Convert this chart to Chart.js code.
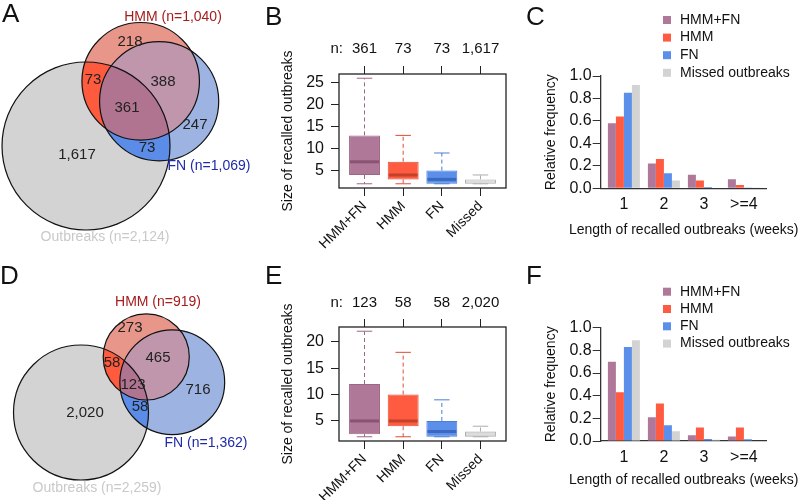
<!DOCTYPE html>
<html>
<head>
<meta charset="utf-8">
<title>Recalled outbreaks</title>
<script src="https://cdn.jsdelivr.net/npm/chart.js@4.4.1/dist/chart.umd.min.js"></script>
<style>
  body{margin:0;background:#fff}
  #fig{position:relative;width:800px;height:500px;overflow:hidden;font-family:"Liberation Sans",Arial,sans-serif}
  #fig canvas{position:absolute}
  .tag{position:absolute;font-size:26px;line-height:1;color:#111}
</style>
</head>
<body>
<div id="fig">
  <canvas id="vennA" width="260" height="250" style="left:0;top:0"></canvas>
  <canvas id="boxB" width="260" height="250" style="left:260px;top:0"></canvas>
  <canvas id="barC" width="280" height="250" style="left:520px;top:0"></canvas>
  <canvas id="vennD" width="260" height="250" style="left:0;top:250px"></canvas>
  <canvas id="boxE" width="260" height="250" style="left:260px;top:250px"></canvas>
  <canvas id="barF" width="280" height="250" style="left:520px;top:250px"></canvas>
  <div class="tag" style="left:2px;top:0">A</div>
  <div class="tag" style="left:265px;top:3px">B</div>
  <div class="tag" style="left:526px;top:3px">C</div>
  <div class="tag" style="left:0;top:262px">D</div>
  <div class="tag" style="left:265px;top:262px">E</div>
  <div class="tag" style="left:526px;top:262px">F</div>
</div>
<script>
// venn regions: outbreaks only, HMM only, FN only, outbreaks+HMM, outbreaks+FN, HMM+FN, all three
const vennRegionsA = [1617, 218, 247, 73, 73, 388, 361]
const vennRegionsD = [2020, 273, 716, 58, 58, 465, 123]
const vennSetNames = ['Outbreaks', 'HMM', 'FN']

const boxGroups = ['HMM+FN', 'HMM', 'FN', 'Missed']
const boxCountsB = [361, 73, 73, 1617]
const boxMinB = [2, 2, 2, 2]
const boxQ1B = [4, 3, 2, 2]
const boxMedB = [7, 4, 3, 2.5]
const boxQ3B = [13, 7, 5, 3]
const boxMaxB = [26, 13, 9, 4]
const sizeTicksB = [5, 10, 15, 20, 25]

const boxCountsE = [123, 58, 58, 2020]
const boxMinE = [2, 2, 2, 2]
const boxQ1E = [2.5, 4, 2, 2]
const boxMedE = [5, 5, 3, 2.5]
const boxQ3E = [12, 10, 5, 3]
const boxMaxE = [22, 18, 9, 4]
const sizeTicksE = [5, 10, 15, 20]

const lengthCats = ['1', '2', '3', '>=4']
const lengthSeries = ['HMM+FN', 'HMM', 'FN', 'Missed outbreaks']
const freqHmmFnC = [0.58, 0.22, 0.12, 0.08]
const freqHmmC = [0.64, 0.26, 0.07, 0.03]
const freqFnC = [0.85, 0.135, 0.012, 0.003]
const freqMissedC = [0.92, 0.07, 0.006, 0.002]
const freqHmmFnF = [0.70, 0.21, 0.05, 0.04]
const freqHmmF = [0.43, 0.33, 0.12, 0.12]
const freqFnF = [0.83, 0.14, 0.018, 0.015]
const freqMissedF = [0.89, 0.085, 0.012, 0.004]
const freqTicks = [0, 0.2, 0.4, 0.6, 0.8, 1.0]

// colours
const groupFill = ['#b07898', '#fe5b40', '#5b8fe9', '#c2c2c2']
const groupLine = ['#9e6686', '#e24b31', '#4a7ed8', '#adadad']
const groupMedian = ['#8a5373', '#c4412a', '#3a69bf', '#dcdcdc']
const barFill = ['#b07898', '#fe5b40', '#5b8fe9', '#d3d3d3']
const vennFill = {o:'#d3d3d3', h:'#e8968a', f:'#9db4e2', hf:'#c096ac', oh:'#fe5a3d', of:'#5a8ce8', all:'#b07490'}
const vennSetColor = ['#c9c9c9', '#a51c1c', '#1f2aa8']

const FONT = '"Liberation Sans", Arial, sans-serif'
Chart.defaults.font.family = FONT
Chart.defaults.color = '#111'
Chart.defaults.animation = false
Chart.defaults.events = []
Chart.defaults.plugins.legend.display = false
Chart.defaults.plugins.tooltip.enabled = false

function fmt(n){ return n.toLocaleString('en-US') }

// ---------- area proportional venn ----------
function lensArea(r1, r2, d){
  if(d >= r1 + r2) return 0
  if(d <= Math.abs(r1 - r2)) return Math.PI * Math.min(r1, r2) ** 2
  const a = r1*r1*Math.acos((d*d + r1*r1 - r2*r2)/(2*d*r1))
  const b = r2*r2*Math.acos((d*d + r2*r2 - r1*r1)/(2*d*r2))
  const c = 0.5*Math.sqrt((-d+r1+r2)*(d+r1-r2)*(d-r1+r2)*(d+r1+r2))
  return a + b - c
}
function distFor(r1, r2, area){
  let lo = Math.abs(r1 - r2), hi = r1 + r2
  for(let i = 0; i < 60; i++){
    const mid = (lo + hi)/2
    if(lensArea(r1, r2, mid) > area) lo = mid; else hi = mid
  }
  return (lo + hi)/2
}
function setTotals(reg){
  const [o, h, f, oh, of, hf, all] = reg
  return [o+oh+of+all, h+oh+hf+all, f+of+hf+all]
}
function vennCircles(reg, angleDeg){
  const [o, h, f, oh, of, hf, all] = reg
  const [nO, nH, nF] = setTotals(reg)
  const rO = Math.sqrt(nO/Math.PI), rH = Math.sqrt(nH/Math.PI), rF = Math.sqrt(nF/Math.PI)
  const dOH = distFor(rO, rH, oh + all)
  const dOF = distFor(rO, rF, of + all)
  const dHF = distFor(rH, rF, hf + all)
  const t = angleDeg*Math.PI/180
  const a = Math.acos((dOH*dOH + dOF*dOF - dHF*dHF)/(2*dOH*dOF))
  return [
    {x:0, y:0, r:rO},
    {x:dOH*Math.cos(t), y:dOH*Math.sin(t), r:rH},
    {x:dOF*Math.cos(t - a), y:dOF*Math.sin(t - a), r:rF}
  ]
}

function vennPlugin(reg, numPos, setPos){
  return {
    id:'venn',
    afterDatasetsDraw(chart){
      const ctx = chart.ctx
      const c = chart.getDatasetMeta(0).data.map(p => ({x:p.x, y:p.y, r:p.options.radius}))
      const circle = k => { ctx.beginPath(); ctx.arc(c[k].x, c[k].y, c[k].r, 0, Math.PI*2) }
      const fill = (col, clips, k) => {
        ctx.save()
        clips.forEach(j => { circle(j); ctx.clip() })
        circle(k); ctx.fillStyle = col; ctx.fill()
        ctx.restore()
      }
      fill(vennFill.o, [], 0)
      fill(vennFill.h, [], 1)
      fill(vennFill.f, [], 2)
      fill(vennFill.hf, [1], 2)
      fill(vennFill.oh, [0], 1)
      fill(vennFill.of, [0], 2)
      fill(vennFill.all, [0, 1], 2)
      ctx.save()
      ctx.strokeStyle = '#111'; ctx.lineWidth = 1.2
      for(let k = 0; k < 3; k++){ circle(k); ctx.stroke() }
      ctx.textAlign = 'center'; ctx.textBaseline = 'middle'
      ctx.font = '15px ' + FONT; ctx.fillStyle = '#222'
      reg.forEach((v, i) => ctx.fillText(fmt(v), numPos[i][0], numPos[i][1]))
      ctx.font = '14px ' + FONT
      setTotals(reg).forEach((n, i) => {
        ctx.fillStyle = vennSetColor[i]
        ctx.fillText(vennSetNames[i] + ' (n=' + fmt(n) + ')', setPos[i][0], setPos[i][1])
      })
      ctx.restore()
    }
  }
}

function makeVenn(id, reg, angleDeg, ppu, origin, numPos, setPos){
  const cv = document.getElementById(id)
  const W = cv.width, H = cv.height
  new Chart(cv, {
    type:'scatter',
    data:{datasets:[{
      data: vennCircles(reg, angleDeg),
      pointRadius: ctx => { const s = ctx.chart.scales.x; return s.getPixelForValue(ctx.raw.r) - s.getPixelForValue(0) },
      pointBackgroundColor:'rgba(0,0,0,0)', pointBorderWidth:0
    }]},
    options:{
      responsive:false,
      scales:{
        x:{display:false, min:-origin[0]/ppu, max:(W - origin[0])/ppu},
        y:{display:false, min:-(H - origin[1])/ppu, max:origin[1]/ppu}
      }
    },
    plugins:[vennPlugin(reg, numPos, setPos)]
  })
}

// ---------- box plots ----------
function boxPlugin(mins, q1s, meds, q3s, maxs, nY){
  return {
    id:'boxExtras',
    afterDatasetsDraw(chart){
      const ctx = chart.ctx, xs = chart.scales.x, ys = chart.scales.y
      chart.getDatasetMeta(0).data.forEach((bar, i) => {
        const cx = xs.getPixelForValue(i + 1), w = bar.width
        const py = v => ys.getPixelForValue(v)
        ctx.save()
        ctx.strokeStyle = groupLine[i]; ctx.lineWidth = 1
        ctx.setLineDash([4, 3])
        ctx.beginPath()
        ctx.moveTo(cx, py(q3s[i])); ctx.lineTo(cx, py(maxs[i]))
        ctx.moveTo(cx, py(q1s[i])); ctx.lineTo(cx, py(mins[i]))
        ctx.stroke()
        ctx.setLineDash([])
        ctx.beginPath()
        ctx.moveTo(cx - w/4, py(maxs[i])); ctx.lineTo(cx + w/4, py(maxs[i]))
        ctx.moveTo(cx - w/4, py(mins[i])); ctx.lineTo(cx + w/4, py(mins[i]))
        ctx.stroke()
        ctx.strokeStyle = groupMedian[i]; ctx.lineWidth = 3
        ctx.beginPath()
        ctx.moveTo(cx - w/2 + 1, py(meds[i])); ctx.lineTo(cx + w/2 - 1, py(meds[i]))
        ctx.stroke()
        ctx.restore()
      })
      const a = chart.chartArea
      ctx.save()
      ctx.strokeStyle = '#222'; ctx.lineWidth = 1.3
      ctx.strokeRect(a.left, a.top, a.right - a.left, a.bottom - a.top)
      ctx.font = '15px ' + FONT; ctx.fillStyle = '#111'
      ctx.textAlign = 'right'; ctx.textBaseline = 'middle'
      ctx.fillText('n:', a.left + 4, nY)
      ctx.restore()
    }
  }
}

function makeBox(id, counts, mins, q1s, meds, q3s, maxs, yTicks, lay){
  const lo = Math.min(...mins), hi = Math.max(...maxs), ext = 0.04*(hi - lo)
  const xMin = 0.5 - 0.04*boxGroups.length, xMax = boxGroups.length + 0.5 + 0.04*boxGroups.length
  const groupTicks = s => { s.ticks = boxGroups.map((g, i) => ({value:i + 1})) }
  const tickGrid = {display:true, offset:false, drawOnChartArea:false, drawTicks:true, tickLength:8, color:'#222'}
  new Chart(document.getElementById(id), {
    type:'bar',
    data:{datasets:[{
      data: boxGroups.map((g, i) => ({x:i + 1, y:[q1s[i], q3s[i]]})),
      backgroundColor: groupFill, borderColor: groupLine, borderWidth:1, borderSkipped:false,
      barPercentage:0.8, categoryPercentage:1
    }]},
    options:{
      responsive:false,
      layout:{padding:{right:lay.right}},
      scales:{
        x:{type:'linear', position:'bottom', offset:false, min:xMin, max:xMax, afterBuildTicks:groupTicks,
          afterFit: s => { s.height = lay.bottom },
          ticks:{callback:(v, i) => boxGroups[i], minRotation:45, maxRotation:45, autoSkip:false, padding:2, font:{size:14}},
          grid:tickGrid, border:{display:false}},
        x2:{type:'linear', position:'top', offset:false, min:xMin, max:xMax, afterBuildTicks:groupTicks,
          afterFit: s => { s.height = lay.top },
          ticks:{callback:(v, i) => fmt(counts[i]), maxRotation:0, autoSkip:false, padding:lay.nPad, font:{size:15}},
          grid:tickGrid, border:{display:false}},
        y:{min:lo - ext, max:hi + ext, afterBuildTicks: s => { s.ticks = yTicks.map(v => ({value:v})) },
          afterFit: s => { s.width = lay.left },
          ticks:{padding:7, font:{size:16}},
          grid:tickGrid, border:{display:false},
          title:{display:true, text:'Size of recalled outbreaks', font:{size:14}, padding:{top:20}}}
      }
    },
    plugins:[boxPlugin(mins, q1s, meds, q3s, maxs, lay.nY)]
  })
}

// ---------- grouped bars ----------
function barExtras(pos){
  return {
    id:'barExtras',
    afterDraw(chart){
      const ctx = chart.ctx, a = chart.chartArea
      ctx.save()
      ctx.font = '14px ' + FONT; ctx.textAlign = 'left'; ctx.textBaseline = 'middle'
      chart.data.datasets.forEach((ds, i) => {
        const y = pos.top + i*pos.row
        ctx.fillStyle = ds.backgroundColor
        ctx.fillRect(pos.left, y - 4, 8, 8)
        ctx.fillStyle = '#111'
        ctx.fillText(ds.label, pos.left + 17, y)
      })
      // x axis title, wider than the plot so drawn here
      ctx.textAlign = 'center'
      ctx.fillText('Length of recalled outbreaks (weeks)', (a.left + a.right)/2, pos.titleY)
      ctx.restore()
    }
  }
}

function makeBars(id, series, lay){
  new Chart(document.getElementById(id), {
    type:'bar',
    data:{datasets: lengthSeries.map((name, k) => ({
      label:name,
      data: lengthCats.map((c, i) => ({x:i + 1, y:series[k][i]})),
      backgroundColor: barFill[k], borderWidth:0,
      categoryPercentage:0.8, barPercentage:1
    }))},
    options:{
      responsive:false,
      layout:{padding:{top:lay.top, right:lay.right}},
      scales:{
        x:{type:'linear', offset:false, min:0.42, max:4.57,
          afterBuildTicks: s => { s.ticks = lengthCats.map((c, i) => ({value:i + 1})) },
          afterFit: s => { s.height = lay.bottom },
          ticks:{callback:(v, i) => lengthCats[i], maxRotation:0, autoSkip:false, padding:6.5, font:{size:16}},
          grid:{display:false, offset:false, drawTicks:false},
          border:{display:true, color:'#333', width:1.3}},
        y:{min:0, max:1,
          afterBuildTicks: s => { s.ticks = freqTicks.map(v => ({value:v})) },
          afterFit: s => { s.width = lay.left },
          ticks:{callback: v => v.toFixed(1), padding:1, font:{size:16}},
          grid:{display:true, drawOnChartArea:false, drawTicks:true, tickLength:8, color:'#333'},
          border:{display:true, color:'#333', width:1.3},
          title:{display:true, text:'Relative frequency', font:{size:14}, padding:{top:23}}}
      }
    },
    plugins:[barExtras(lay.legend)]
  })
}

makeVenn('vennA', vennRegionsA, 49.8, 3.23, [86, 146],
  [[77,155],[130,42],[195,125],[93,80],[147,148],[163,82],[127,108]],
  [[105,237],[173,17],[209,166]])
makeVenn('vennD', vennRegionsD, 40.4, 2.517, [81, 162.5],
  [[85,163],[130,78],[198,140],[112,113],[140,157],[158,108],[133,135]],
  [[97,238],[158,52],[206,193]])

makeBox('boxB', boxCountsB, boxMinB, boxQ1B, boxMedB, boxQ3B, boxMaxB, sizeTicksB,
  {top:74, bottom:62, left:79, right:14, nPad:8, nY:49})
makeBox('boxE', boxCountsE, boxMinE, boxQ1E, boxMedE, boxQ3E, boxMaxE, sizeTicksE,
  {top:77, bottom:59, left:79, right:14, nPad:7.5, nY:53})

makeBars('barC', [freqHmmFnC, freqHmmC, freqFnC, freqMissedC],
  {top:76, bottom:61.7, left:80.7, right:33.3, legend:{left:143, top:20, row:17.6, titleY:230}})
makeBars('barF', [freqHmmFnF, freqHmmF, freqFnF, freqMissedF],
  {top:77.7, bottom:59, left:80.7, right:33.3, legend:{left:143, top:41.7, row:17.3, titleY:230}})
</script>
</body>
</html>
